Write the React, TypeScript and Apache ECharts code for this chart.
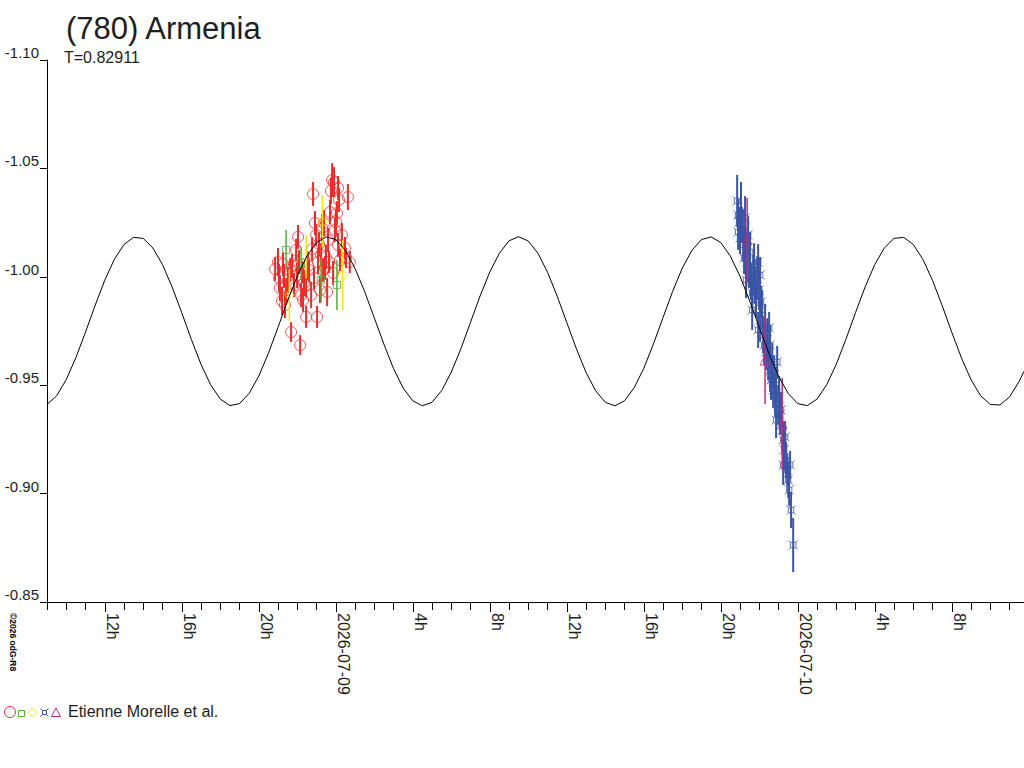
import React, { useEffect, useRef } from "react";
import * as echarts from "echarts";

// Hours counted from 2026-07-08 00:00
const xMin = 9;
const xMax = 59.75;
const tickHours = [9,10,11,12,13,14,15,16,17,18,19,20,21,22,23,24,25,26,27,28,29,30,31,32,33,34,35,36,37,38,39,40,41,42,43,44,45,46,47,48,49,50,51,52,53,54,55,56,57,58,59];
const labelHours = [12,16,20,24,28,32,36,40,44,48,52,56];
const dateLabels: Record<number, string> = { 24: "2026-07-09", 48: "2026-07-10" };
const yTicks = [-1.1, -1.05, -1.0, -0.95, -0.9, -0.85];

// Model lightcurve every half hour: hour, magnitude
const curveHours = [
  9,9.5,10,10.5,11,11.5,12,12.5,13,13.5,14,14.5,15,15.5,16,16.5,17,17.5,18,18.5,
  19,19.5,20,20.5,21,21.5,22,22.5,23,23.5,24,24.5,25,25.5,26,26.5,27,27.5,28,28.5,
  29,29.5,30,30.5,31,31.5,32,32.5,33,33.5,34,34.5,35,35.5,36,36.5,37,37.5,38,38.5,
  39,39.5,40,40.5,41,41.5,42,42.5,43,43.5,44,44.5,45,45.5,46,46.5,47,47.5,48,48.5,
  49,49.5,50,50.5,51,51.5,52,52.5,53,53.5,54,54.5,55,55.5,56,56.5,57,57.5,58,58.5,
  59,59.5,59.75
];
const curveMags = [
  -0.9411,-0.9451,-0.9526,-0.9627,-0.9745,-0.9868,-0.9984,-1.0081,-1.0149,-1.0182,-1.0177,-1.0133,-1.0056,-0.9953,-0.9834,-0.9711,-0.9596,-0.9502,-0.9436,-0.9406,
  -0.9415,-0.9462,-0.9542,-0.9647,-0.9767,-0.9890,-1.0003,-1.0096,-1.0158,-1.0184,-1.0172,-1.0122,-1.0039,-0.9932,-0.9811,-0.9689,-0.9577,-0.9487,-0.9428,-0.9405,
  -0.9421,-0.9475,-0.9560,-0.9668,-0.9790,-0.9912,-1.0022,-1.0109,-1.0166,-1.0185,-1.0165,-1.0109,-1.0021,-0.9911,-0.9789,-0.9668,-0.9559,-0.9474,-0.9421,-0.9405,
  -0.9428,-0.9488,-0.9578,-0.9690,-0.9812,-0.9933,-1.0040,-1.0122,-1.0172,-1.0184,-1.0158,-1.0095,-1.0002,-0.9889,-0.9766,-0.9647,-0.9542,-0.9462,-0.9415,-0.9406,
  -0.9436,-0.9502,-0.9597,-0.9712,-0.9835,-0.9954,-1.0057,-1.0134,-1.0177,-1.0182,-1.0149,-1.0080,-0.9983,-0.9867,-0.9744,-0.9626,-0.9525,-0.9451,-0.9411,-0.9409,
  -0.9446,-0.9518,-0.9564
];

// Observations: [hour, magnitude, error]
const redPoints = [
  [20.85,-1.0036,0.0055],[21.00,-1.0068,0.0065],[21.05,-0.9994,0.0065],[21.10,-0.9948,0.0060],
  [21.21,-0.9888,0.0065],[21.26,-1.0059,0.0055],[21.31,-1.0004,0.0055],[21.42,-0.9939,0.0055],
  [21.52,-0.9985,0.0060],[21.63,-1.0031,0.0055],[21.68,-0.9745,0.0046],[21.73,-1.0050,0.0055],
  [21.83,-0.9962,0.0055],[21.94,-1.0124,0.0051],[21.99,-1.0008,0.0060],[22.04,-1.0184,0.0055],
  [22.09,-1.0068,0.0055],[22.15,-0.9685,0.0046],[22.20,-0.9916,0.0055],[22.25,-1.0022,0.0051],
  [22.35,-0.9971,0.0060],[22.46,-0.9815,0.0051],[22.46,-0.9962,0.0055],[22.56,-1.0050,0.0065],
  [22.61,-1.0031,0.0055],[22.72,-0.9916,0.0060],[22.77,-1.0128,0.0055],[22.82,-1.0382,0.0055],
  [22.87,-0.9994,0.0051],[22.92,-1.0248,0.0055],[22.98,-1.0193,0.0051],[23.03,-0.9815,0.0051],
  [23.08,-1.0068,0.0055],[23.13,-1.0151,0.0055],[23.18,-0.9939,0.0060],[23.24,-1.0101,0.0055],
  [23.29,-1.0225,0.0065],[23.34,-1.0031,0.0055],[23.39,-1.0248,0.0060],[23.44,-1.0041,0.0055],
  [23.49,-1.0091,0.0055],[23.55,-0.9930,0.0065],[23.60,-1.0170,0.0055],[23.65,-1.0068,0.0051],
  [23.70,-1.0299,0.0055],[23.75,-1.0396,0.0060],[23.81,-1.0446,0.0078],[23.86,-1.0018,0.0055],
  [23.91,-1.0437,0.0069],[23.96,-1.0216,0.0055],[24.01,-1.0253,0.0060],[24.06,-1.0294,0.0055],
  [24.12,-1.0147,0.0055],[24.17,-1.0354,0.0055],[24.22,-1.0077,0.0051],[24.32,-1.0193,0.0055],
  [24.48,-1.0133,0.0051],[24.53,-1.0087,0.0046],[24.63,-1.0368,0.0060],[24.73,-1.0068,0.0051],
  [24.12,-1.0410,0.0055],[22.30,-0.9893,0.0055],[21.36,-0.9870,0.0060]
];
const greenPoints = [
  [21.42,-1.0124,0.0092],[22.20,-1.0064,0.0074],[23.24,-0.9985,0.0101],[24.06,-0.9962,0.0115]
];
const yellowPoints = [
  [23.31,-1.0254,0.0120],[22.46,-1.0093,0.0101],[24.36,-1.0008,0.0161],[21.59,-0.9916,0.0120]
];
const bluePoints = [
  [44.85,-1.0350,0.0120],[44.90,-1.0285,0.0074],[44.95,-1.0253,0.0069],[44.90,-1.0207,0.0083],
  [45.00,-1.0179,0.0074],[45.05,-1.0299,0.0138],[45.10,-1.0239,0.0083],[45.16,-1.0147,0.0078],
  [45.21,-1.0216,0.0092],[45.26,-1.0271,0.0101],[45.31,-1.0124,0.0083],[45.21,-1.0087,0.0074],
  [45.37,-1.0068,0.0092],[45.42,-1.0193,0.0088],[45.47,-1.0031,0.0083],[45.52,-1.0114,0.0092],
  [45.57,-0.9976,0.0083],[45.63,-0.9925,0.0078],[45.68,-1.0008,0.0092],[45.73,-1.0054,0.0101],
  [45.78,-0.9962,0.0088],[45.83,-0.9893,0.0083],[45.89,-0.9994,0.0101],[45.94,-1.0068,0.0083],
  [45.99,-0.9939,0.0092],[46.04,-1.0008,0.0083],[46.09,-0.9884,0.0074],[46.15,-0.9847,0.0092],
  [45.94,-0.9755,0.0083],[46.04,-0.9801,0.0101],[46.20,-0.9732,0.0083],[46.25,-0.9685,0.0092],
  [46.30,-0.9764,0.0111],[46.35,-0.9653,0.0083],[46.41,-0.9708,0.0101],[46.46,-0.9616,0.0092],
  [46.51,-0.9764,0.0074],[46.56,-0.9570,0.0101],[46.61,-0.9524,0.0092],[46.67,-0.9593,0.0101],
  [46.72,-0.9478,0.0083],[46.77,-0.9547,0.0092],[46.82,-0.9455,0.0101],[46.87,-0.9501,0.0083],
  [46.93,-0.9607,0.0074],[46.98,-0.9409,0.0092],[47.03,-0.9441,0.0101],[47.08,-0.9363,0.0092],
  [47.13,-0.9386,0.0083],[47.19,-0.9293,0.0092],[47.24,-0.9247,0.0083],[47.29,-0.9201,0.0092],
  [47.34,-0.9261,0.0074],[47.39,-0.9155,0.0083],[47.45,-0.9109,0.0074],[47.50,-0.9063,0.0083],
  [47.55,-0.9017,0.0074],[47.60,-0.9132,0.0065],[47.65,-0.8924,0.0083],[47.76,-0.8763,0.0125],
  [45.63,-0.9847,0.0092],[45.31,-0.9985,0.0083],[46.56,-0.9685,0.0092],[46.87,-0.9339,0.0083],
  [47.24,-0.9132,0.0092]
];
const purplePoints = [
  [45.37,-1.0170,0.0194],[46.30,-0.9616,0.0203],[47.19,-0.9321,0.0212]
];

const RED = "#ee2a2a";
const GREEN = "#4caf3c";
const YELLOW = "#f5e800";
const BLUE = "#3b55a6";
const PURPLE = "#c02c7c";
const TEXT = "#1e1e1e";
const FONT = "'Liberation Sans', Arial, sans-serif";
const CROSS_SQUARE = "path://M0,0L2,2M10,0L8,2M0,10L2,8M10,10L8,8M2,2L8,2L8,8L2,8Z";

function errorBars(data: number[][], color: string, width: number, z: number) {
  return {
    type: "custom",
    xAxisIndex: 0,
    yAxisIndex: 0,
    data,
    encode: { x: 0, y: 1 },
    silent: true,
    z,
    renderItem: (params: any, api: any) => {
      const h = api.value(0);
      const m = api.value(1);
      const e = api.value(2);
      const p1 = api.coord([h, m - e]);
      const p2 = api.coord([h, m + e]);
      return {
        type: "line",
        shape: { x1: p1[0], y1: p1[1], x2: p2[0], y2: p2[1] },
        style: { stroke: color, lineWidth: width },
      };
    },
  };
}

function markers(data: number[][], color: string, symbol: string, size: number, z: number) {
  return {
    type: "scatter",
    xAxisIndex: 0,
    yAxisIndex: 0,
    data: data.map((d) => [d[0], d[1]]),
    symbol,
    symbolSize: size,
    silent: true,
    z,
    itemStyle: { color: "rgba(0,0,0,0)", borderColor: color, borderWidth: 1 },
  };
}

export default function App() {
  const ref = useRef<HTMLDivElement>(null);
  useEffect(() => {
    const chart = echarts.init(ref.current!, null, { renderer: "svg" });
    const option: any = {
      animation: false,
      backgroundColor: "#fff",
      grid: { left: 47, right: 0, top: 60, bottom: 166, containLabel: false },
      xAxis: [
        {
          type: "value",
          min: xMin,
          max: xMax,
          position: "bottom",
          axisLine: { show: true, onZero: false, lineStyle: { color: "#000", width: 1 } },
          axisTick: { show: true, customValues: tickHours, length: 8, lineStyle: { color: "#000", width: 1 } },
          axisLabel: {
            show: true,
            customValues: labelHours,
            rotate: -90,
            margin: 11,
            align: "left",
            verticalAlign: "bottom",
            fontSize: 16,
            fontFamily: FONT,
            color: TEXT,
            formatter: (v: number) => dateLabels[v] ?? `${v % 24}h`,
          },
          splitLine: { show: false },
        },
        {
          type: "value",
          min: xMin,
          max: xMax,
          position: "bottom",
          axisLine: { show: false, onZero: false },
          axisTick: { show: true, customValues: labelHours, length: 10, lineStyle: { color: "#000", width: 1 } },
          axisLabel: { show: false },
          splitLine: { show: false },
        },
      ],
      yAxis: {
        type: "value",
        min: -1.1,
        max: -0.85,
        inverse: true,
        axisLine: { show: true, onZero: false, lineStyle: { color: "#000", width: 1 } },
        axisTick: { show: true, customValues: yTicks, length: 7, lineStyle: { color: "#000", width: 1 } },
        axisLabel: {
          customValues: yTicks,
          margin: 8,
          align: "right",
          verticalAlign: "bottom",
          fontSize: 15,
          fontFamily: FONT,
          color: TEXT,
          formatter: (v: number) => v.toFixed(2),
        },
        splitLine: { show: false },
      },
      series: [
        errorBars(redPoints, RED, 2, 2),
        markers(redPoints, RED, "circle", 11, 3),
        errorBars(greenPoints, GREEN, 1.5, 4),
        markers(greenPoints, GREEN, "rect", 7, 5),
        errorBars(yellowPoints, YELLOW, 1.5, 6),
        markers(yellowPoints, YELLOW, "diamond", 10, 7),
        errorBars(bluePoints, BLUE, 2, 8),
        markers(bluePoints, BLUE, CROSS_SQUARE, 9, 9),
        errorBars(purplePoints, PURPLE, 1.5, 10),
        markers(purplePoints, PURPLE, "triangle", 10, 11),
        {
          type: "line",
          xAxisIndex: 0,
          yAxisIndex: 0,
          data: curveHours.map((h, i) => [h, curveMags[i]]),
          smooth: false,
          showSymbol: false,
          silent: true,
          z: 12,
          lineStyle: { color: "#000", width: 1 },
        },
      ],
      graphic: [
        {
          type: "text",
          left: 66,
          top: 13,
          style: { text: "(780) Armenia", fontSize: 31, fontFamily: FONT, fill: TEXT },
        },
        {
          type: "text",
          left: 64,
          top: 49,
          style: { text: "T=0.82911", fontSize: 16, fontFamily: FONT, fill: TEXT },
        },
        {
          type: "text",
          x: 8,
          y: 613,
          rotation: -Math.PI / 2,
          style: { text: "©2026 odG-R8", fontSize: 8.5, fontWeight: "bold", fontFamily: FONT, fill: "#000", align: "left", verticalAlign: "bottom" },
        },
        { type: "circle", shape: { cx: 10, cy: 712, r: 5.5 }, style: { fill: "none", stroke: RED, lineWidth: 1 } },
        { type: "rect", shape: { x: 18.5, y: 710.5, width: 6, height: 6 }, style: { fill: "none", stroke: GREEN, lineWidth: 1 } },
        {
          type: "polygon",
          shape: { points: [[32.5, 708], [37, 712.5], [32.5, 717], [28, 712.5]] },
          style: { fill: "none", stroke: YELLOW, lineWidth: 1 },
        },
        {
          type: "group",
          children: [
            { type: "rect", shape: { x: 42.5, y: 710.5, width: 4, height: 4 }, style: { fill: "none", stroke: BLUE, lineWidth: 1 } },
            { type: "line", shape: { x1: 40.5, y1: 708.5, x2: 42.5, y2: 710.5 }, style: { stroke: BLUE, lineWidth: 1 } },
            { type: "line", shape: { x1: 48.5, y1: 708.5, x2: 46.5, y2: 710.5 }, style: { stroke: BLUE, lineWidth: 1 } },
            { type: "line", shape: { x1: 40.5, y1: 716.5, x2: 42.5, y2: 714.5 }, style: { stroke: BLUE, lineWidth: 1 } },
            { type: "line", shape: { x1: 48.5, y1: 716.5, x2: 46.5, y2: 714.5 }, style: { stroke: BLUE, lineWidth: 1 } },
          ],
        },
        {
          type: "polygon",
          shape: { points: [[56, 708], [60.5, 716.5], [51.5, 716.5]] },
          style: { fill: "none", stroke: PURPLE, lineWidth: 1 },
        },
        {
          type: "text",
          left: 68,
          top: 703,
          style: { text: "Etienne Morelle et al.", fontSize: 16, fontFamily: FONT, fill: TEXT },
        },
      ],
    };
    chart.setOption(option);
    return () => chart.dispose();
  }, []);
  return (
    <div
      ref={ref}
      style={{ position: "absolute", left: 0, top: 0, width: 1024, height: 768, background: "#fff" }}
    />
  );
}
